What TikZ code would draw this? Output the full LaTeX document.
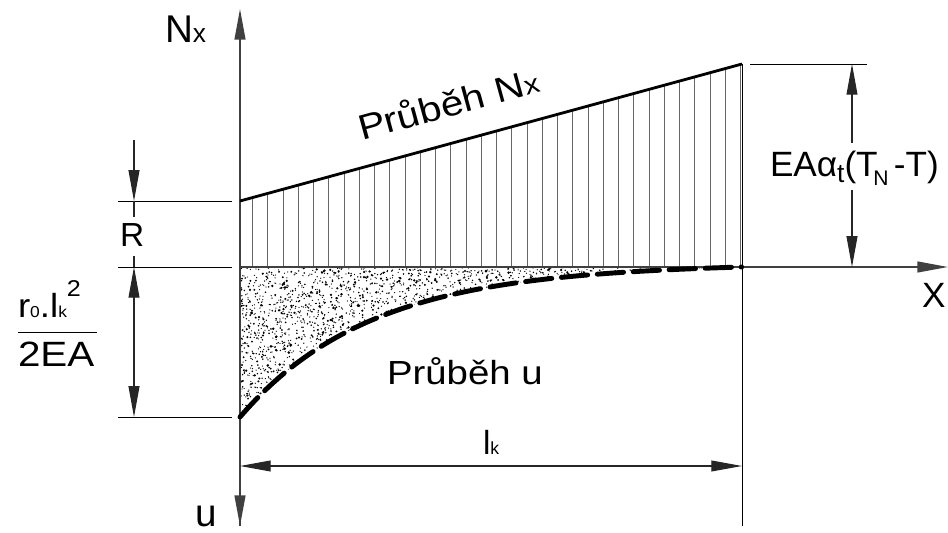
\documentclass[tikz,border=0pt]{standalone}
\usepackage{fontspec}
\setmainfont{Liberation Sans}
\usetikzlibrary{arrows.meta}
\newcommand{\fs}[1]{\fontsize{#1pt}{#1pt}\selectfont}
\tikzset{
  axisline/.style={draw=black!75, line width=0.9pt},
  nline/.style={draw=black, line width=1.6pt},
  hatchline/.style={draw=black!60, line width=0.55pt},
  extline/.style={draw=black, line width=0.55pt},
  dimline/.style={draw=black!85, line width=0.6pt},
  tip/.tip={Triangle[length=17.5pt, width=6.2pt]},
  ucurve/.style={draw=black, line width=2.8pt, line cap=round, dash pattern=on 15pt off 5.5pt},
  lbl/.style={inner sep=0pt, outer sep=0pt, text=black},
}
\begin{document}
\begin{tikzpicture}[x=0.02cm, y=-0.02cm]
\useasboundingbox (0,0) rectangle (948,533);
% key points
\coordinate (O) at (240,267);
\coordinate (Ntop) at (240,9);
\coordinate (Ubot) at (240,526);
\coordinate (Xend) at (948,267);
\coordinate (A) at (240,201);
\coordinate (B) at (742,64);
\coordinate (C) at (742,267);
\coordinate (Cbot) at (742,526);
\coordinate (U0) at (240,417);
% stipple
\begin{scope}
  \clip (240,267) -- plot[domain=0:1, samples=60] ({240+502*\x}, {267+150*(exp(-3.9*\x)-exp(-3.9)*\x)}) -- cycle;
  \pgfmathsetseed{7}
  \foreach \i in {1,...,1400}{
    \pgfmathsetmacro\mytt{-ln(1-rnd*(1-exp(-3.9)))/3.9}
    \pgfmathsetmacro\myvv{exp(-3.9*\mytt)*rnd}
    \pgfmathsetmacro\myrr{0.35+0.75*rnd*rnd*rnd}
    \fill[black] ({240+502*\mytt},{267+150*\myvv}) circle[radius=\myrr pt];
  }
\end{scope}
% hatch lines
\foreach \i in {0,...,32}{
  \pgfmathsetmacro\xx{252.7+15.25*\i}
  \pgfmathsetmacro\yy{201-0.27291*(\xx-240)}
  \draw[hatchline] (\xx,\yy) -- (\xx,267);
}
% axes
\draw[axisline, -tip] (Ubot) -- (Ntop);
\draw[axisline, -tip] (O) -- (Ubot);
\draw[axisline, -tip] (O) -- (Xend);
% N line
\draw[nline] (A) -- (B);
\draw[extline] (B) -- (Cbot);
% u curve
\draw[ucurve] plot[domain=0:1, samples=80] ({240+502*\x}, {267+150*(exp(-3.9*\x)-exp(-3.9)*\x)});
% extension lines
\coordinate (eR1) at (118,201); \coordinate (eR2) at (232,201);
\coordinate (eO1) at (118,267); \coordinate (eO2) at (232,267);
\coordinate (eU1) at (118,417); \coordinate (eU2) at (232,417);
\coordinate (eT1) at (750,64);  \coordinate (eT2) at (867,64);
\draw[extline] (eR1) -- (eR2);
\draw[extline] (eO1) -- (eO2);
\draw[extline] (eU1) -- (eU2);
\draw[extline] (eT1) -- (eT2);
% R dimension
\coordinate (dR0) at (134,140); \coordinate (dR1) at (134,201);
\coordinate (dR2) at (134,217); \coordinate (dR3) at (134,256); \coordinate (dR4) at (134,267);
\draw[dimline, -tip] (dR0) -- (dR1);
\draw[dimline] (dR1) -- (dR2);
\draw[dimline] (dR3) -- (dR4);
% r0 dimension
\coordinate (dU0) at (134,267); \coordinate (dU1) at (134,417);
\draw[dimline, tip-tip] (dU0) -- (dU1);
% EA dimension
\coordinate (dT0) at (852,64); \coordinate (dT1) at (852,143);
\coordinate (dT2) at (852,190); \coordinate (dT3) at (852,267);
\draw[dimline, tip-] (dT0) -- (dT1);
\draw[dimline, -tip] (dT2) -- (dT3);
% lk dimension
\coordinate (dL0) at (240,466); \coordinate (dL1) at (742,466);
\draw[dimline, tip-tip] (dL0) -- (dL1);
% labels
\node[lbl, anchor=base west] (lNx) at (165,43) {\fs{22}N\fs{15}x};
\node[lbl, anchor=base west] (lR) at (120,247) {\fs{19}R};
\node[lbl, anchor=base west] (lnum) at (18,318) {\scalebox{1.1}[1]{\fs{19}r\fs{9}0\fs{19}.l\fs{9}k\raisebox{12.5pt}{\fs{13}2}}};
\draw[extline] (18,332) -- (97,332);
\node[lbl, anchor=base west] (lden) at (18,367) {\scalebox{1.15}[1]{\fs{20}2EA}};
\node[lbl, anchor=base west] (lEA) at (770,177) {\fs{20}EAα\raisebox{-3.4pt}{\fs{15}t}(T\kern-0.12em\raisebox{-5.1pt}{\fs{12}N}\kern0.15em-T)};
\node[lbl, anchor=base west] (lX) at (922,308) {\fs{20}X};
\node[lbl, anchor=base west] (lu) at (195,527) {\fs{22}u};
\node[lbl, anchor=base west] (llk) at (483,455) {\fs{19}l\fs{10}k};
\node[lbl, anchor=base west] (lPu) at (387,385) {\scalebox{1.15}[1]{\fs{19}Průběh u}};
\node[lbl, anchor=base west, rotate=15.3] (lPN) at (362,141) {\scalebox{1.15}[1]{\fs{20}Průběh N\fs{15}x}};
\end{tikzpicture}
\end{document}
